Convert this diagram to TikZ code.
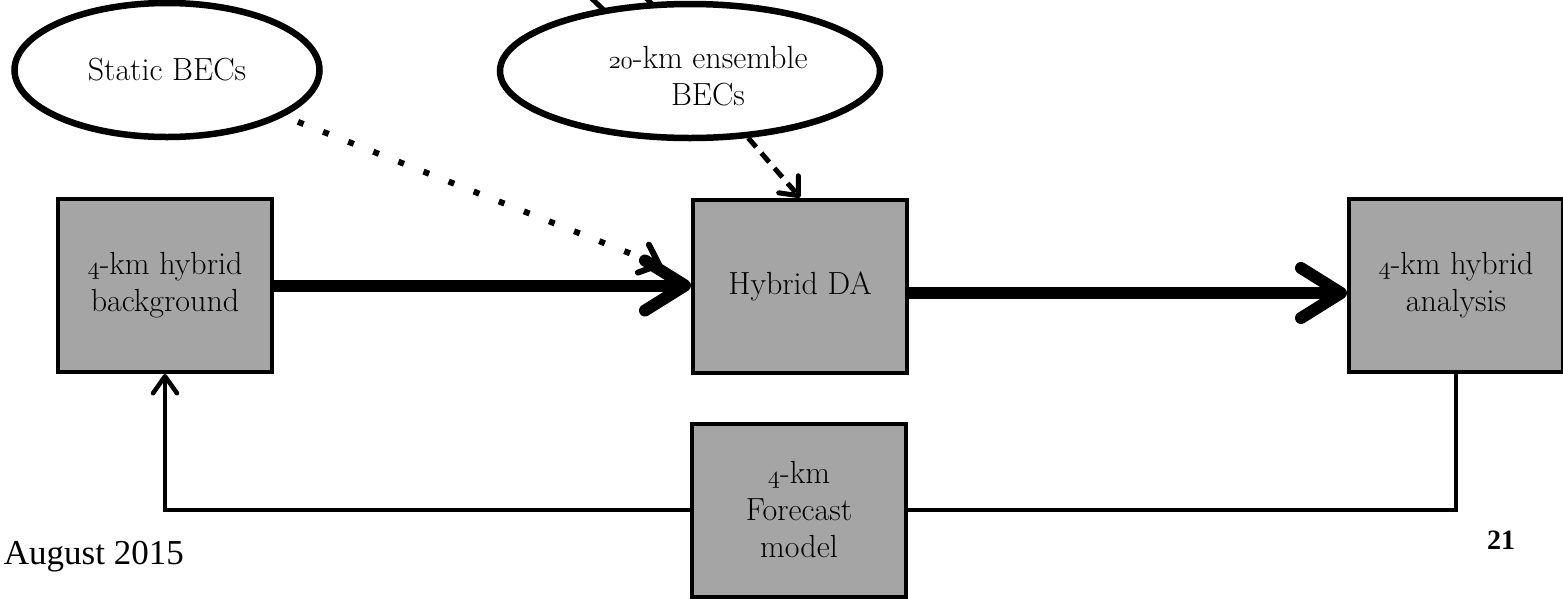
\documentclass[tikz,border=0pt]{standalone}
\usepackage{fontspec}
\newfontfamily\timesfont{Liberation Serif}
\usetikzlibrary{arrows.meta,shapes.geometric,calc}
\definecolor{boxgray}{RGB}{165,165,165}
\newcommand{\osn}[1]{{\usefont{OML}{lmm}{m}{it}#1}}
\newcommand{\mainsize}{\fontsize{32}{37}\selectfont}
\tikzset{
  box/.style={draw, line width=4pt, fill=boxgray, minimum width=214pt, minimum height=173pt, inner sep=0pt, align=center, font=\mainsize},
  bec/.style={ellipse, draw, fill=white, line width=6.5pt, inner sep=0pt, font=\mainsize, align=center},
  thickarrow/.style={line width=12pt, -{Straight Barb[length=40pt,width=50pt,round]}},
  thinline/.style={line width=4.5pt},
  thinarrow/.style={thinline, -{Straight Barb[length=17pt,width=24pt,round]}},
  dashedarrow/.style={line width=5pt, dash pattern=on 12pt off 8pt, -{Straight Barb[length=15pt,width=26pt,round]}},
  dottedarrow/.style={line width=6pt, dash pattern=on 6pt off 21pt, dash phase=12pt, -{Straight Barb[length=17pt,width=30pt,round]}},
  topdash/.style={line width=5pt}
}
\begin{document}
\begin{tikzpicture}[x=1pt,y=-1pt]
\useasboundingbox (0,0) rectangle (1563,598);
\clip (0,0) rectangle (1563,598);
% top dashes entering the ensemble ellipse
\coordinate (d1a) at (588,-5);
\coordinate (d1b) at (608,14);
\coordinate (d2a) at (643,-5);
\coordinate (d2b) at (658,10);
\draw[topdash] (d1a) -- (d1b);
\draw[topdash] (d2a) -- (d2b);
% ellipses
\node[bec, minimum width=305pt, minimum height=134pt] (sb) at (167,70) {Static BECs};
\node[bec, minimum width=380pt, minimum height=134pt] (ens) at (690,71) {};
\node[font=\mainsize, align=center] (enstext) at (708,76) {\osn{20}-km ensemble\\BECs};
% boxes
\node[box] (bg) at (165,285.5) {\osn{4}-km hybrid\\background};
\node[box] (da) at (800,286) {Hybrid DA};
\node[box] (an) at (1456,285) {\osn{4}-km hybrid\\analysis};
\node[box] (fc) at (799,510) {\osn{4}-km\\Forecast\\model};
% connectors
\draw[thickarrow] (bg.east) -- (bg.east -| da.west);
\draw[thickarrow] ([yshift=-7pt]da.east) -- ([yshift=-7pt]da.east -| an.west);
\draw[thinline] (an.south) |- (fc.east);
\draw[thinarrow] (fc.west) -| (bg.south);
\coordinate (dotend) at (662,266);
\draw[dottedarrow] (sb) -- (dotend);
\draw[dashedarrow] (ens) -- (da.north);
% footer
\node[font=\timesfont\fontsize{35}{40}\selectfont, anchor=base east, inner sep=0pt] (date) at (184,564) {August 2015};
\node[font=\timesfont\bfseries\fontsize{28}{32}\selectfont, anchor=base, inner sep=0pt] (page) at (1501,549) {21};
\end{tikzpicture}
\end{document}
